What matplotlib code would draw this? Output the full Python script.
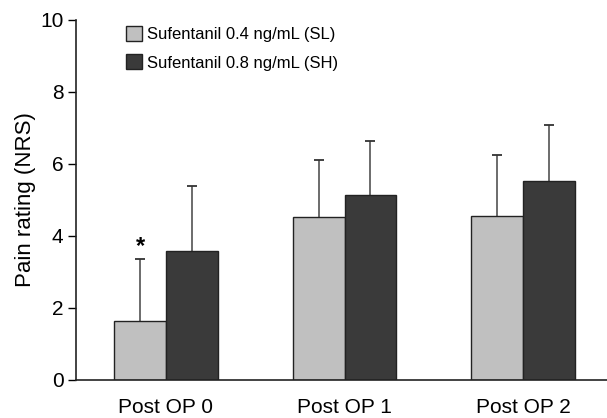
import matplotlib.pyplot as plt
import numpy as np

plt.rcParams["font.family"] = ["Liberation Sans", "DejaVu Sans"]

groups = ["Post OP 0", "Post OP 1", "Post OP 2"]
sl_mean = [1.63, 4.52, 4.55]
sl_sd = [1.72, 1.58, 1.71]
sh_mean = [3.58, 5.13, 5.52]
sh_sd = [1.80, 1.50, 1.56]
series_names = ["Sufentanil 0.4 ng/mL (SL)", "Sufentanil 0.8 ng/mL (SH)"]

fig = plt.figure(figsize=(6.07, 4.18), dpi=100)
ax = fig.add_axes([76 / 607, (418 - 379.7) / 418, (607 - 76) / 607, (379.7 - 20) / 418])

x = np.arange(len(groups))
w = 0.289

ax.bar(x - w / 2, sl_mean, w, color="#c0c0c0", edgecolor="#222222", linewidth=1.0,
       label=series_names[0], zorder=2)
ax.bar(x + w / 2, sh_mean, w, color="#3a3a3a", edgecolor="#222222", linewidth=1.0,
       label=series_names[1], zorder=2)

# upper error bars only: stem + top cap
for xs, m, sd in [(x - w / 2, sl_mean, sl_sd), (x + w / 2, sh_mean, sh_sd)]:
    tops = np.array(m) + np.array(sd)
    ax.vlines(xs, m, tops, color="#444444", linewidth=1.1, zorder=1)
    ax.plot(xs, tops, linestyle="none", marker="_", markersize=7, markeredgewidth=1.3,
            color="#333333", zorder=1)

# significance marker
ax.text(x[0] - w / 2, sl_mean[0] + sl_sd[0] + 0.02, "*", ha="center", va="bottom",
        fontsize=17, fontweight="bold")

ax.set_xlim(-0.504, 2.47)
ax.set_ylim(0, 10)
ax.set_yticks([0, 2, 4, 6, 8, 10])
ax.set_xticks(x)
ax.set_xticklabels(groups)
ax.tick_params(axis="x", length=0, pad=13, labelsize=15)
ax.tick_params(axis="y", length=6, width=1.0, labelsize=15, pad=3)
ax.set_ylabel("Pain rating (NRS)", fontsize=16, labelpad=3)

for s in ["top", "right"]:
    ax.spines[s].set_visible(False)
for s in ["left", "bottom"]:
    ax.spines[s].set_linewidth(1.2)
    ax.spines[s].set_color("#222222")

ax.legend(loc="upper left", bbox_to_anchor=(0.075, 1.012), frameon=False, fontsize=12,
          handlelength=0.95, handleheight=1.0, handletextpad=0.3, labelspacing=0.75,
          borderaxespad=0.2)

fig.savefig("out.png", dpi=100)
